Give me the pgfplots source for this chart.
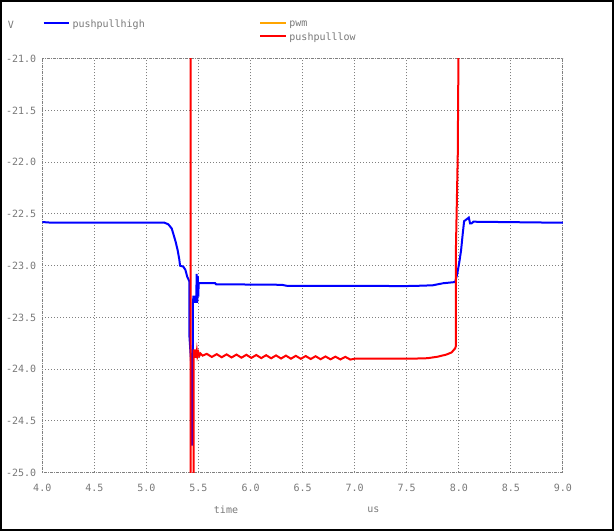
\documentclass[border=0pt]{standalone}
\usepackage{fontspec}
\usepackage{pgfplots}
\pgfplotsset{compat=1.18}
\newfontfamily\monof{DejaVu Sans Mono}
\definecolor{txtgray}{RGB}{120,120,120}
\definecolor{gridgray}{RGB}{128,128,128}
\definecolor{pwmorange}{RGB}{255,165,0}
\begin{document}
\begin{tikzpicture}
\begin{axis}[
  at={(31.7pt,43.9pt)}, anchor=south west,
  scale only axis, width=390.5pt, height=310.2pt,
  xmin=4, xmax=9, ymin=-25, ymax=-21,
  xtick={4,4.5,5,5.5,6,6.5,7,7.5,8,8.5,9},
  xticklabels={4.0,4.5,5.0,5.5,6.0,6.5,7.0,7.5,8.0,8.5,9.0},
  ytick={-25,-24.5,-24,-23.5,-23,-22.5,-22,-21.5,-21},
  yticklabels={-25.0,-24.5,-24.0,-23.5,-23.0,-22.5,-22.0,-21.5,-21.0},
  tick style={draw=none},
  grid=major,
  major grid style={gridgray, line width=0.75pt, dash pattern=on 0.75pt off 1.5pt},
  axis line style={gridgray, line width=0.75pt, dash pattern=on 0.75pt off 0.75pt},
  ticklabel style={font=\monof\fontsize{7.5}{9}\selectfont, text=txtgray},
  xticklabel style={yshift=-5pt},
  yticklabel style={xshift=-1pt},
  clip=true,
  legend columns=2,
  legend cell align=left,
  legend style={at={(rel axis cs:0,1)}, anchor=south west, yshift=10pt, xshift=0pt,
    draw=none, fill=none, inner sep=0pt, font=\monof\fontsize{7.5}{9}\selectfont, text=txtgray,
    /tikz/column 2/.style={column sep=84pt}, row sep=-1.5pt},
  legend image code/.code={\draw[#1] (0pt,1.5pt) -- (19pt,1.5pt);},
]
\addplot[blue, line width=1.5pt] coordinates {
(4.0,-22.578) (4.07,-22.583) (5.17,-22.583) (5.21,-22.60) (5.243,-22.64) (5.258,-22.69)
(5.281,-22.77) (5.30,-22.85) (5.316,-22.94) (5.323,-23.00) (5.355,-23.01) (5.374,-23.04)
(5.393,-23.11) (5.412,-23.15) (5.413,-23.68) (5.436,-24.04) (5.440,-24.73) (5.443,-24.73)
(5.447,-23.36) (5.452,-23.29) (5.457,-23.36) (5.462,-23.29) (5.467,-23.36) (5.472,-23.29)
(5.478,-23.36) (5.483,-23.08) (5.488,-23.36) (5.493,-23.10) (5.498,-23.30) (5.502,-23.17)
(5.66,-23.17) (5.67,-23.18) (6.3,-23.185) (6.35,-23.195) (7.5,-23.197) (7.6,-23.195)
(7.75,-23.19) (7.85,-23.17) (7.95,-23.16) (7.965,-23.16) (7.987,-23.07) (8.006,-22.96)
(8.022,-22.85) (8.038,-22.69) (8.051,-22.57) (8.077,-22.55) (8.096,-22.535) (8.108,-22.59)
(8.125,-22.59) (8.14,-22.575) (9.0,-22.585)
};
\addlegendentry{pushpullhigh}
\addlegendimage{pwmorange, line width=1.5pt}
\addlegendentry{pwm}
\addlegendimage{empty legend}
\addlegendentry{}
\addplot[red, line width=1.5pt] coordinates {
(4.0,-20.5) (5.425,-20.5) (5.425,-25.5) (5.454,-25.5) (5.454,-23.81)
(5.46,-23.89) (5.465,-23.81) (5.47,-23.89) (5.475,-23.82) (5.48,-23.88) (5.485,-23.83)
(5.49,-23.875) (5.50,-23.84) (5.51,-23.87) (5.52,-23.85) (5.54,-23.87)
(5.58,-23.853) (5.628,-23.883) (5.675,-23.856) (5.723,-23.886) (5.77,-23.858) (5.818,-23.888)
(5.865,-23.860) (5.913,-23.890) (5.96,-23.862) (6.008,-23.892) (6.055,-23.864) (6.103,-23.894)
(6.15,-23.866) (6.198,-23.896) (6.245,-23.868) (6.293,-23.898) (6.34,-23.870) (6.388,-23.900)
(6.435,-23.872) (6.483,-23.901) (6.53,-23.874) (6.578,-23.903) (6.625,-23.876) (6.673,-23.905)
(6.72,-23.878) (6.768,-23.906) (6.815,-23.880) (6.863,-23.907) (6.91,-23.882) (6.958,-23.908)
(7.0,-23.900) (7.3,-23.900) (7.6,-23.898) (7.7,-23.895) (7.8,-23.88) (7.88,-23.86)
(7.93,-23.84) (7.965,-23.80) (7.971,-23.78) (7.972,-22.86) (7.99,-21.93) (8.0,-20.5) (9.0,-20.5)
};
\addlegendentry{pushpulllow}
\end{axis}
\node[font=\monof\fontsize{7.5}{9}\selectfont, text=txtgray] at (8.25pt,379.5pt) {V};
\node[font=\monof\fontsize{7.5}{9}\selectfont, text=txtgray] at (169.5pt,15.75pt) {time};
\node[font=\monof\fontsize{7.5}{9}\selectfont, text=txtgray] at (280.1pt,15.75pt) {us};
\draw[black, line width=1.5pt] (0.75pt,0.75pt) rectangle (459.75pt,397.5pt);
\pgfresetboundingbox
\path[use as bounding box] (0,0) rectangle (460.5pt,398.25pt);
\end{tikzpicture}
\end{document}
